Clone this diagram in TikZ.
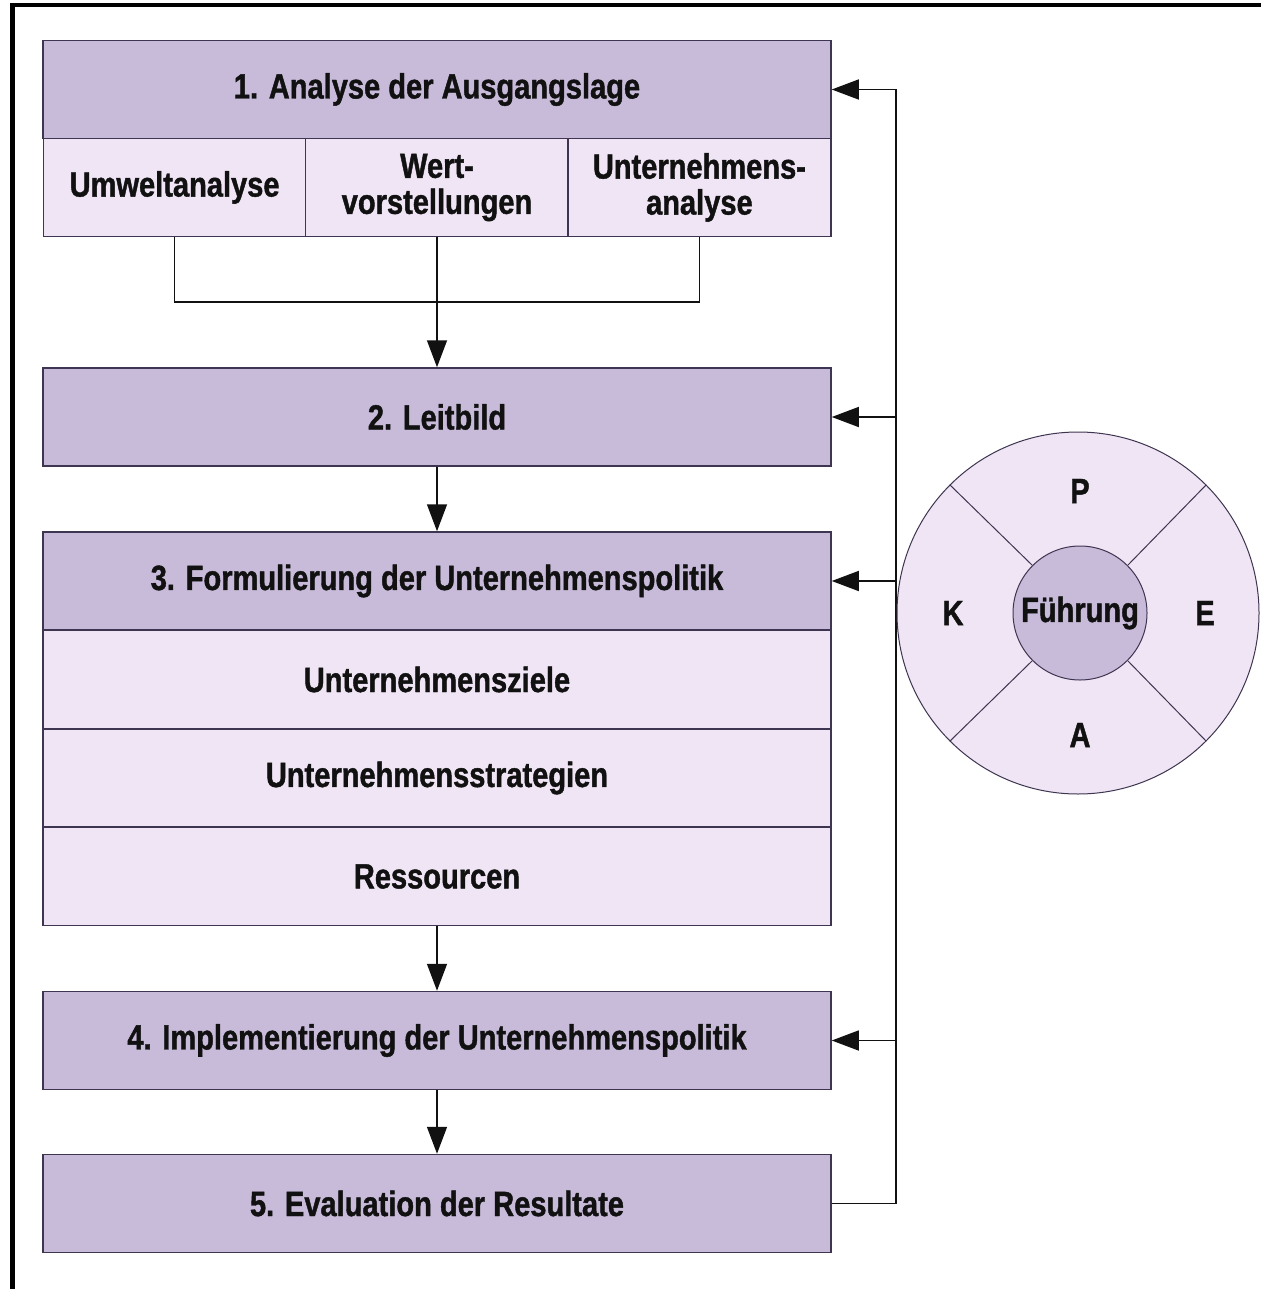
\documentclass[tikz,border=0pt]{standalone}
\usepackage{fontspec}
\setmainfont{Liberation Sans}[FakeStretch=0.83, BoldFeatures={FakeBold=1.2}]
\usetikzlibrary{arrows.meta}
\definecolor{hdr}{HTML}{C8BBDA}
\definecolor{lite}{HTML}{F0E5F5}
\definecolor{edge}{HTML}{3E3550}
\definecolor{ink}{HTML}{111111}
\tikzset{
  txt/.style={text=ink, font=\fontsize{35}{36}\selectfont\bfseries},
  box/.style={rectangle, draw=edge, line width=1.5pt, inner sep=0pt, minimum width=788pt,
    minimum height=98pt, txt, align=center},
  head/.style={box, fill=hdr},
  sub/.style={box, fill=lite},
  cell/.style={sub, minimum width=262.7pt},
  conn/.style={draw=ink, line width=1.5pt},
  arr/.style={conn, -{Triangle[length=27pt,width=20pt]}},
  lab/.style={txt, inner sep=0pt}
}
\begin{document}
\begin{tikzpicture}[x=1pt,y=-1pt]
\useasboundingbox (0,0) rectangle (1261,1289);
% frame
\draw[line width=4.5pt, draw=black] (12.5,1289) -- (12.5,5) -- (1261,5);
% boxes
\node[head] (b1) at (437,89.5) {1. Analyse der Ausgangslage};
\node[cell] (u1) at (174.6,187.5) {Umweltanalyse};
\node[cell] (u2) at (437,187.5) {Wert-\\vorstellungen};
\node[cell] (u3) at (699.4,187.5) {Unternehmens-\\analyse};
\node[head] (b2) at (437,417) {2. Leitbild};
\node[head] (b3) at (437,581) {3. Formulierung der Unternehmenspolitik};
\node[sub] (r1) at (437,679.5) {Unternehmensziele};
\node[sub] (r2) at (437,778) {Unternehmensstrategien};
\node[sub] (r3) at (437,876.5) {Ressourcen};
\node[head] (b4) at (437,1040.5) {4. Implementierung der Unternehmenspolitik};
\node[head] (b5) at (437,1203.5) {5. Evaluation der Resultate};
% connectors from analysis
\coordinate (jl) at (174.6,302);
\coordinate (jr) at (699.4,302);
\draw[conn] (u1.south) -- (jl) -- (jr) -- (u3.south);
\draw[arr] (u2.south) -- (b2.north);
\draw[arr] (b2.south) -- (b3.north);
\draw[arr] (r3.south) -- (b4.north);
\draw[arr] (b4.south) -- (b5.north);
% feedback loop
\coordinate (f5) at (896,1203.5);
\coordinate (f1) at (896,89.5);
\coordinate (f2) at (896,417);
\coordinate (f3) at (896,581);
\coordinate (f4) at (896,1040.5);
\draw[conn] (b5.east) -- (f5) -- (f1);
\draw[arr] (f1) -- (b1.east);
\draw[arr] (f2) -- (b2.east);
\draw[arr] (f3) -- (b3.east);
\draw[arr] (f4) -- (b4.east);
% circle
\node[circle, draw=edge, line width=1pt, fill=lite, minimum size=362pt, inner sep=0pt] (oc) at (1078,613) {};
\node[circle, draw=edge, line width=1pt, fill=hdr, minimum size=134pt, inner sep=0pt, txt] (ic) at (1080,613) {Führung};
\foreach \a in {45,135,225,315}{
  \draw[draw=edge, line width=1pt] (ic.\a) -- (oc.\a);
}
\node[lab] (lp) at (1080,491) {P};
\node[lab] (lk) at (953,613) {K};
\node[lab] (le) at (1205,613) {E};
\node[lab] (la) at (1080,735) {A};
\end{tikzpicture}
\end{document}
